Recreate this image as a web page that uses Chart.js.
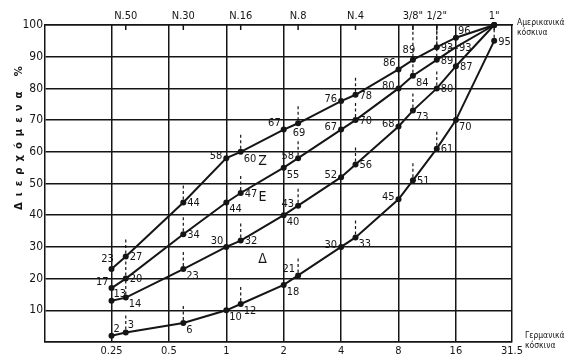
<!DOCTYPE html>
<html><head><meta charset="utf-8">
<script src="https://cdn.jsdelivr.net/npm/chart.js@4.4.1/dist/chart.umd.min.js"></script>
<style>html,body{margin:0;padding:0;background:#fff}canvas{display:block}</style>
</head><body>
<canvas id="c" width="583" height="360"></canvas>
<script>
// ---- data ----
const germanSieves = [0.25, 0.5, 1, 2, 4, 8, 16, 31.5];
const germanLabels = ['0.25', '0.5', '1', '2', '4', '8', '16', '31.5'];
const americanSieves = [0.297, 0.595, 1.19, 2.38, 4.76, 9.52, 12.7, 25.4];
const americanLabels = ['N.50', 'N.30', 'N.16', 'N.8', 'N.4', '3/8"', '1/2"', '1"'];
const pointSieves = [0.25, 0.297, 0.595, 1, 1.19, 2, 2.38, 4, 4.76, 8, 9.52, 12.7, 16, 25.4];
const curveTopZ   = [23, 27, 44, 58, 60, 67, 69, 76, 78, 86, 89, 93, 96, 100];
const curveZE     = [17, 20, 34, 44, 47, 55, 58, 67, 70, 80, 84, 89, 93, 100];
const curveEDelta = [13, 14, 23, 30, 32, 40, 43, 52, 56, 68, 73, 80, 87, 100];
const curveBottom = [2, 3, 6, 10, 12, 18, 21, 30, 33, 45, 51, 61, 70, 95];
const zoneNames = ['Z', 'E', 'Δ'];
const zoneX = [1.55, 1.55, 1.55];
const zoneY = [57, 45.5, 26];
const yTitle = 'Διερχόμενα %';
const topNote = ['Αμερικανικά', 'κόσκινα'];
const bottomNote = ['Γερμανικά', 'κόσκινα'];

// ---- label placement (style) ----
const placeTopZ   = ['a','r','r','l','rb','la','b','l','r','la','a','r','ra','n'];
const placeZE     = ['la','r','r','rb','r','rb','l','l','r','l','rb','r','rl','n'];
const placeEDelta = ['ra','rb','rb','la','r','rb','l','l','r','l','rb','r','r','n'];
const placeBottom = ['ra','ra','rb','rb','rb','rb','la','l','rb','l','r','r','rb','r'];

const INK = '#151515';
const FONT = 'DejaVu Sans Condensed';
const OFF = {
  r:  {align:'left',  dx: 4, dy: 1},
  rl: {align:'left',  dx: 3, dy: 1},
  rb: {align:'left',  dx: 3, dy: 7},
  ra: {align:'left',  dx: 2, dy: -7},
  l:  {align:'right', dx: -4, dy: -2},
  la: {align:'right', dx: -3, dy: -6},
  a:  {align:'center',dx: -4, dy: -10},
  b:  {align:'center',dx: 1, dy: 10}
};

function mkDs(values, place) {
  return {
    data: pointSieves.map((x, i) => ({x: x, y: values[i]})),
    place: place,
    borderColor: INK, backgroundColor: INK, borderWidth: 2,
    pointRadius: c => place[c.dataIndex] === 'rl' ? 0 : 3,
    pointHoverRadius: 0, pointBorderWidth: 0,
    tension: 0, fill: false, clip: false
  };
}

const decor = {
  id: 'decor',
  beforeDraw(chart) {
    const ctx = chart.ctx;
    ctx.save(); ctx.fillStyle = '#fff'; ctx.fillRect(0, 0, chart.width, chart.height); ctx.restore();
  },
  beforeDatasetsDraw(chart) {
    const ctx = chart.ctx, a = chart.chartArea;
    const xs = chart.scales.x, ys = chart.scales.y;
    ctx.save();
    ctx.strokeStyle = INK;
    ctx.lineWidth = 1.5;
    americanSieves.forEach(v => {
      const px = xs.getPixelForValue(v);
      ctx.beginPath(); ctx.moveTo(px, a.top); ctx.lineTo(px, a.top + 5); ctx.stroke();
    });
    ctx.setLineDash([3, 2.5]);
    ctx.lineWidth = 1.2;
    chart.data.datasets.forEach(ds => {
      ds.data.forEach(p => {
        if (americanSieves.indexOf(p.x) < 0 || p.y >= 100) return;
        const px = xs.getPixelForValue(p.x), py = ys.getPixelForValue(p.y);
        let y2 = py - 18;
        if (y2 < a.top + 20) y2 = a.top;
        ctx.beginPath(); ctx.moveTo(px, py - 3); ctx.lineTo(px, y2); ctx.stroke();
      });
    });
    ctx.restore();
  },
  afterDatasetsDraw(chart) {
    const ctx = chart.ctx, a = chart.chartArea;
    const xs = chart.scales.x, ys = chart.scales.y;
    ctx.save();
    ctx.fillStyle = INK; ctx.strokeStyle = INK;
    ctx.font = '11px "' + FONT + '"';
    ctx.textBaseline = 'middle';
    chart.data.datasets.forEach(ds => {
      ds.data.forEach((p, i) => {
        const code = ds.place[i];
        if (code === 'n') return;
        const o = OFF[code];
        const px = xs.getPixelForValue(p.x), py = ys.getPixelForValue(p.y);
        ctx.textAlign = o.align;
        ctx.fillText(String(p.y), px + o.dx, py + o.dy);
        if (code === 'rl') {
          ctx.lineWidth = 1.2;
          ctx.beginPath(); ctx.moveTo(px - 8, py + 1); ctx.lineTo(px + 2, py + 1); ctx.stroke();
        }
      });
    });
    ctx.font = '14px "' + FONT + '"';
    ctx.textAlign = 'center';
    zoneNames.forEach((n, i) => {
      ctx.fillText(n, xs.getPixelForValue(zoneX[i]), ys.getPixelForValue(zoneY[i]));
    });
    ctx.font = '8.5px "' + FONT + '"';
    ctx.textAlign = 'left';
    ctx.fillText(topNote[0], a.right + 5, 23);
    ctx.fillText(topNote[1], a.right + 5, 33);
    ctx.fillText(bottomNote[0], a.right + 13, 336);
    ctx.fillText(bottomNote[1], a.right + 13, 346);
    ctx.translate(19, 135);
    ctx.rotate(-Math.PI / 2);
    ctx.font = 'bold 10px "DejaVu Sans"';
    ctx.letterSpacing = '6px';
    ctx.textAlign = 'center';
    ctx.fillText(yTitle, 0, 0);
    ctx.restore();
  }
};

const logMin = 0.112, logMax = 31.5;
new Chart(document.getElementById('c'), {
  type: 'line',
  data: { datasets: [
    mkDs(curveTopZ, placeTopZ),
    mkDs(curveZE, placeZE),
    mkDs(curveEDelta, placeEDelta),
    mkDs(curveBottom, placeBottom)
  ]},
  options: {
    responsive: false, animation: false, events: [],
    layout: { padding: { left: 0, right: 71, top: 0, bottom: 0 } },
    plugins: { legend: { display: false }, tooltip: { enabled: false } },
    scales: {
      x: {
        type: 'logarithmic', position: 'bottom', min: logMin, max: logMax,
        afterBuildTicks: s => { s.ticks = germanSieves.map(v => ({value: v})); },
        afterFit: s => { s.height = 18; },
        ticks: { autoSkip: false, maxRotation: 0, padding: 3, color: INK,
          font: { family: FONT, size: 11 },
          callback: (v, i) => germanLabels[i] },
        grid: { color: INK, lineWidth: 1.5, drawTicks: false },
        border: { display: true, color: INK, width: 1.5 }
      },
      xTop: {
        type: 'logarithmic', position: 'top', min: logMin, max: logMax,
        afterBuildTicks: s => { s.ticks = americanSieves.map(v => ({value: v})); },
        afterFit: s => { s.height = 25; },
        ticks: { autoSkip: false, maxRotation: 0, padding: 2, color: INK,
          font: { family: FONT, size: 11 },
          callback: (v, i) => americanLabels[i] },
        grid: { display: false, drawTicks: false },
        border: { display: true, color: INK, width: 1.5 }
      },
      y: {
        min: 0, max: 100,
        afterFit: s => { s.width = 45; },
        ticks: { stepSize: 10, padding: 2, color: INK,
          font: { family: FONT, size: 12 },
          callback: v => v === 0 ? '' : String(v) },
        grid: { color: INK, lineWidth: 1.5, drawTicks: false },
        border: { display: true, color: INK, width: 1.5 }
      }
    }
  },
  plugins: [decor]
});
</script>
</body></html>
